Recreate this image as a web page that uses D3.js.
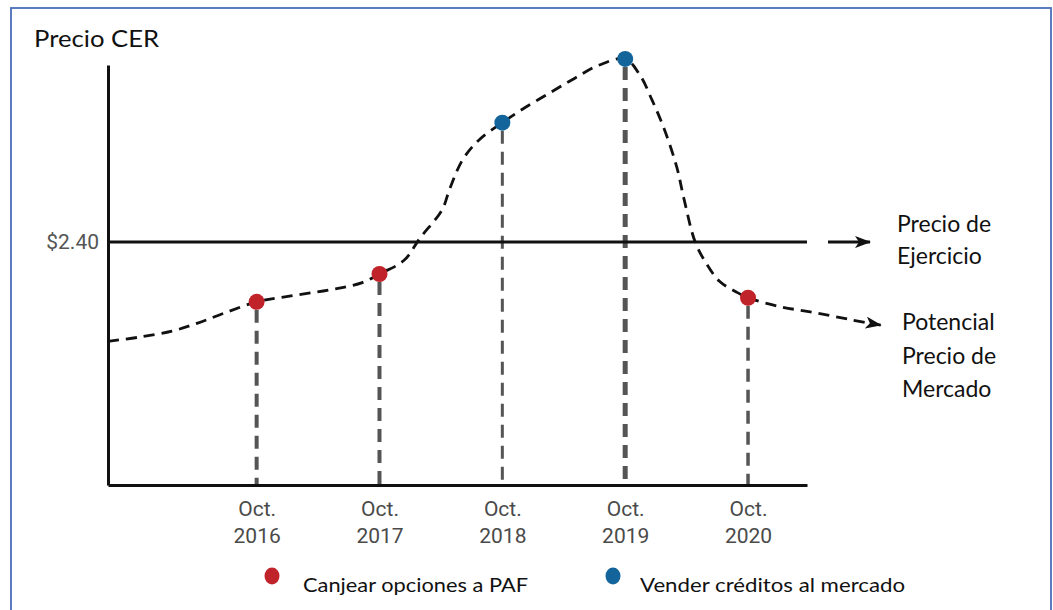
<!DOCTYPE html>
<html>
<head>
<meta charset="utf-8">
<script src="https://cdn.jsdelivr.net/npm/d3@7/dist/d3.min.js"></script>
<style>
  html, body { margin: 0; padding: 0; background: #fff; }
  svg { display: block; }
</style>
</head>
<body>
<svg id="chart" width="1053" height="610"></svg>
<script>
// ---------------- DATA ----------------
const tickYears = [2016, 2017, 2018, 2019, 2020];
const tickMonth = ["Oct.", "Oct.", "Oct.", "Oct.", "Oct."];
const markerPrices = [1.81, 2.085, 3.58, 4.21, 1.85];
const markerAction = ["canjear", "canjear", "vender", "vender", "canjear"];
const strikePrice = 2.40;
const curveYears = [2014.79, 2015.04, 2015.31, 2015.52, 2015.74, 2016.00, 2016.23, 2016.60, 2016.86, 2017.00,
  2017.20, 2017.33, 2017.51, 2017.57, 2017.675, 2017.81, 2018.00, 2018.16, 2018.38, 2018.59,
  2018.79, 2019.00, 2019.12, 2019.22, 2019.32, 2019.42, 2019.48, 2019.57, 2019.66, 2019.77,
  2019.90, 2020.00, 2020.27, 2020.56, 2020.85, 2021.08];
const curvePrices = [1.42, 1.46, 1.52, 1.60, 1.70, 1.81, 1.86, 1.93, 2.00, 2.085,
  2.22, 2.44, 2.72, 2.92, 3.21, 3.41, 3.58, 3.71, 3.87, 4.02,
  4.15, 4.21, 4.05, 3.80, 3.51, 3.14, 2.82, 2.40, 2.19, 2.01,
  1.91, 1.85, 1.76, 1.70, 1.63, 1.58];
const legendKeys = ["canjear", "vender"];
const legendLabels = ["Canjear opciones a PAF", "Vender créditos al mercado"];
const yTitle = "Precio CER";
const strikeLabel = ["Precio de", "Ejercicio"];
const marketLabel = ["Potencial", "Precio de", "Mercado"];

// ---------------- STYLE / LAYOUT ----------------
const colors = { canjear: "#C1232A", vender: "#12649A" };
const guideWidths = [4, 4, 3, 5, 3.5];
const svg = d3.select("#chart");
const x = d3.scaleLinear().domain([2014.79, 2020.48]).range([108, 807]);
const y = d3.scaleLinear().domain([0, 4.15]).range([485, 65]);

// frame
svg.append("rect").attr("x", 11).attr("y", 8).attr("width", 1040).attr("height", 640)
  .attr("fill", "none").attr("stroke", "#4A6EB8").attr("stroke-width", 1.8);

// defs: arrowheads
const defs = svg.append("defs");
defs.append("marker").attr("id", "arrow").attr("markerUnits", "userSpaceOnUse")
  .attr("viewBox", "0 0 16 12").attr("refX", 15).attr("refY", 6)
  .attr("markerWidth", 16).attr("markerHeight", 12).attr("orient", "auto")
  .append("path").attr("d", "M0,0 L16,6 L0,12 L4,6 Z").attr("fill", "#111");

// title
svg.append("text").attr("x", 34).attr("y", 47).text(yTitle)
  .attr("font-family", "Lato, 'Open Sans', sans-serif").attr("font-size", 23).attr("fill", "#111")
  .attr("textLength", 125).attr("lengthAdjust", "spacingAndGlyphs");

// vertical guides
svg.append("g").selectAll("line").data(tickYears).join("line")
  .attr("x1", d => x(d)).attr("x2", d => x(d))
  .attr("y1", (d, i) => y(markerPrices[i]) + 8).attr("y2", y(0))
  .attr("stroke", "#555").attr("stroke-width", (d, i) => guideWidths[i])
  .attr("stroke-dasharray", "13,8");

// strike line
svg.append("line").attr("x1", x.range()[0]).attr("x2", x.range()[1])
  .attr("y1", y(strikePrice)).attr("y2", y(strikePrice))
  .attr("stroke", "#111").attr("stroke-width", 3);
svg.append("line").attr("x1", x.range()[1] + 21).attr("x2", x.range()[1] + 63)
  .attr("y1", y(strikePrice)).attr("y2", y(strikePrice))
  .attr("stroke", "#111").attr("stroke-width", 3).attr("marker-end", "url(#arrow)");

// axes
const yAxis = svg.append("g").attr("transform", `translate(${x.range()[0]},0)`)
  .call(d3.axisLeft(y).tickValues([strikePrice]).tickSize(0).tickPadding(9)
    .tickFormat(d => "$" + d.toFixed(2)));
yAxis.select(".domain").attr("stroke", "#111").attr("stroke-width", 3);
yAxis.selectAll("text").attr("font-family", "Roboto, Arial, sans-serif").attr("font-size", 21)
  .attr("fill", "#555");

const xAxis = svg.append("g").attr("transform", `translate(0,${y(0)})`)
  .call(d3.axisBottom(x).tickValues(tickYears).tickSize(0).tickFormat(""));
xAxis.select(".domain").attr("stroke", "#111").attr("stroke-width", 3.2);
xAxis.selectAll(".tick").each(function(d, i) {
  const t = d3.select(this).append("text").attr("text-anchor", "middle")
    .attr("font-family", "Roboto, Arial, sans-serif").attr("font-size", 21).attr("fill", "#4a4a4a");
  t.append("tspan").attr("x", 0).attr("y", 31).text(tickMonth[i]);
  t.append("tspan").attr("x", 0).attr("y", 58).text(d);
});

// curve
const pts = curveYears.map((d, i) => [d, curvePrices[i]]);
const line = d3.line().x(d => x(d[0])).y(d => y(d[1])).curve(d3.curveCatmullRom.alpha(0.5));
svg.append("path").attr("d", line(pts)).attr("fill", "none").attr("stroke", "#111")
  .attr("stroke-width", 2.8).attr("stroke-dasharray", "11,7").attr("marker-end", "url(#arrow)");

// markers
svg.append("g").selectAll("circle").data(tickYears).join("circle")
  .attr("cx", d => x(d)).attr("cy", (d, i) => y(markerPrices[i])).attr("r", 8)
  .attr("fill", (d, i) => colors[markerAction[i]]);

// right labels
const lblFont = "Lato, 'Open Sans', sans-serif";
const sl = svg.append("text").attr("font-family", lblFont).attr("font-size", 23).attr("fill", "#111");
strikeLabel.forEach((s, i) => sl.append("tspan").attr("x", 897).attr("y", 232 + i * 32).text(s));
const ml = svg.append("text").attr("font-family", lblFont).attr("font-size", 23).attr("fill", "#111");
marketLabel.forEach((s, i) => ml.append("tspan").attr("x", 902).attr("y", 330 + i * 33.5).text(s));

// legend
const legendX = [272, 613];
const legendTextX = [303, 640];
const legendLen = [225, 265];
const lg = svg.append("g");
legendKeys.forEach((k, i) => {
  lg.append("ellipse").attr("cx", legendX[i]).attr("cy", 576).attr("rx", 7.5).attr("ry", 8.5)
    .attr("fill", colors[k]);
  lg.append("text").attr("x", legendTextX[i]).attr("y", 592).text(legendLabels[i])
    .attr("font-family", lblFont).attr("font-size", 20).attr("fill", "#111")
    .attr("textLength", legendLen[i]).attr("lengthAdjust", "spacingAndGlyphs");
});
</script>
</body>
</html>
